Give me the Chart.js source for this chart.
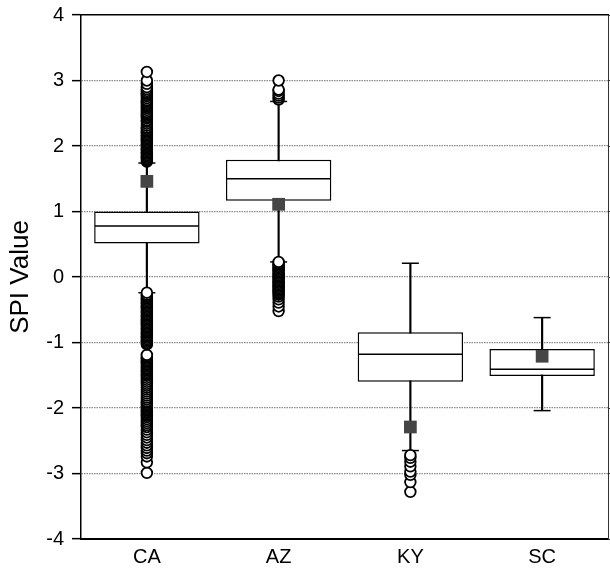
<!DOCTYPE html>
<html>
<head>
<meta charset="utf-8">
<script src="https://cdn.jsdelivr.net/npm/chart.js@4"></script>
<style>
  body { margin: 0; background: #fff; }
  #wrap { width: 610px; height: 570px; }
</style>
</head>
<body>
<div id="wrap"><canvas id="spiChart" width="610" height="570"></canvas></div>
<script>
// box plot values
const categories = ["CA", "AZ", "KY", "SC"];
const q1Values = [0.51, 1.165, -1.6, -1.51];
const medianValues = [0.78, 1.5, -1.18, -1.41];
const q3Values = [1.0, 1.79, -0.845, -1.1];
const whiskerLow = [-0.24, 0.23, -2.65, -2.04];
const whiskerHigh = [1.74, 2.68, 0.21, -0.62];
const meanValues = [1.46, 1.11, -2.29, -1.21];
const yTicks = [-4, -3, -2, -1, 0, 1, 2, 3, 4];

// outliers (ascending, so the one nearest the whisker ends up on top)
const caOutliers = [
  -2.99, -2.83, -2.74, -2.69, -2.65, -2.61, -2.57, -2.53, -2.49, -2.45, -2.41,
  -2.37, -2.33, -2.29, -2.26, -2.23, -2.2, -2.17, -2.14, -2.12, -2.1, -2.08,
  -2.06, -2.04, -2.02, -2.0, -1.98, -1.96, -1.94, -1.92, -1.9, -1.87, -1.84,
  -1.81, -1.78, -1.75, -1.72, -1.69, -1.66, -1.63, -1.6, -1.57, -1.54, -1.51,
  -1.49, -1.47, -1.45, -1.43, -1.41, -1.39, -1.37, -1.35, -1.33, -1.31, -1.29,
  -1.27, -1.25, -1.23, -1.21, -1.19, -1.03, -1.01, -0.99, -0.97, -0.95,
  -0.93, -0.91, -0.89, -0.87, -0.85, -0.83, -0.81, -0.79, -0.77, -0.75, -0.73,
  -0.71, -0.69, -0.67, -0.65, -0.63, -0.61, -0.59, -0.57, -0.55, -0.53, -0.51,
  -0.49, -0.47, -0.45, -0.43, -0.41, -0.39, -0.37, -0.35, -0.33, -0.31, -0.29,
  -0.27, -0.24,
  1.76, 1.78, 1.8, 1.82, 1.84, 1.86, 1.88, 1.9, 1.92, 1.94, 1.96, 1.98, 2.0,
  2.02, 2.04, 2.06, 2.08, 2.1, 2.12, 2.14, 2.16, 2.18, 2.2, 2.22, 2.24, 2.26,
  2.28, 2.31, 2.34, 2.37, 2.39, 2.42, 2.44, 2.46, 2.48, 2.5, 2.52, 2.55, 2.58,
  2.6, 2.62, 2.64, 2.66, 2.68, 2.7, 2.73, 2.76, 2.78, 2.8, 2.82, 2.84, 2.87,
  2.9, 2.95, 3.0, 3.13,
];
const azOutliers = [
  -0.52, -0.45, -0.39, -0.34, -0.3, -0.27, -0.25, -0.23, -0.21, -0.19, -0.17,
  -0.15, -0.13, -0.11, -0.09, -0.07, -0.05, -0.03, -0.01, 0.01, 0.03, 0.05,
  0.07, 0.09, 0.11, 0.13, 0.15, 0.17, 0.19, 0.21, 0.23,
  2.71, 2.74, 2.77, 2.8, 2.84, 2.86, 3.0,
];
const kyOutliers = [-3.28, -3.13, -3.02, -2.97, -2.89, -2.82, -2.76, -2.72];
const scOutliers = [];

const outlierPoints = [];
[caOutliers, azOutliers, kyOutliers, scOutliers].forEach((list, i) => {
  list.forEach((v) => outlierPoints.push({ x: categories[i], y: v }));
});

const capPoints = [];
categories.forEach((c, i) => {
  capPoints.push({ x: c, y: whiskerLow[i] });
  capPoints.push({ x: c, y: whiskerHigh[i] });
});

// y scales: fixed width, no extra room for the end labels
const fitY = (w) => (s) => {
  s.width = w;
  s.paddingTop = 0;
  s.paddingBottom = 0;
};

const ctx = document.getElementById("spiChart").getContext("2d");
new Chart(ctx, {
  data: {
    labels: categories,
    datasets: [
      {
        // mean squares
        type: "line",
        showLine: false,
        data: categories.map((c, i) => ({ x: c, y: meanValues[i] })),
        pointStyle: "rect",
        pointRadius: 9,
        pointBackgroundColor: "#454545",
        pointBorderWidth: 0,
        pointBorderColor: "#454545",
      },
      {
        type: "line",
        showLine: false,
        data: outlierPoints,
        pointStyle: "circle",
        pointRadius: 5.3,
        pointBackgroundColor: "#fff",
        pointBorderColor: "#000",
        pointBorderWidth: 1.8,
      },
      {
        // whisker caps
        type: "line",
        showLine: false,
        data: capPoints,
        pointStyle: "line",
        pointRadius: 8.5,
        pointBorderColor: "#000",
        pointBorderWidth: 1.5,
      },
      {
        // median line across the box
        type: "line",
        showLine: false,
        data: categories.map((c, i) => ({ x: c, y: medianValues[i] })),
        pointStyle: "line",
        pointRadius: 52,
        pointBorderColor: "#000",
        pointBorderWidth: 1.5,
      },
      {
        type: "bar",
        data: categories.map((c, i) => [q1Values[i], q3Values[i]]),
        backgroundColor: "#fff",
        borderColor: "#000",
        borderWidth: 1.5,
        borderSkipped: false,
        barPercentage: 0.8,
        categoryPercentage: 1,
        grouped: false,
      },
      {
        // whisker line behind the box
        type: "bar",
        data: categories.map((c, i) => [whiskerLow[i], whiskerHigh[i]]),
        backgroundColor: "#000",
        borderWidth: 0,
        barThickness: 1.5,
        grouped: false,
      },
    ],
  },
  options: {
    responsive: false,
    animation: false,
    events: [],
    layout: { autoPadding: false, padding: { top: 15, left: 0, right: 0, bottom: 0 } },
    plugins: { legend: { display: false }, tooltip: { enabled: false } },
    scales: {
      x: {
        type: "category",
        offset: true,
        grid: { display: false, drawTicks: false },
        border: { display: true, color: "#000", width: 2 },
        ticks: {
          color: "#000",
          padding: 6,
          font: { family: "Liberation Sans", size: 20 },
        },
        afterFit: (s) => { s.height = 31; },
      },
      x2: {
        type: "category",
        position: "top",
        grid: { display: false, drawTicks: false },
        ticks: { display: false },
        border: { display: true, color: "#000", width: 1.5 },
        afterFit: (s) => { s.height = 0; },
      },
      y: {
        min: -4,
        max: 4,
        afterBuildTicks: (s) => { s.ticks = yTicks.map((v) => ({ value: v })); },
        grid: {
          color: (c) =>
            c.tick && (c.tick.value === -4 || c.tick.value === 4)
              ? "rgba(0,0,0,0)"
              : "#8a8a8a",
          lineWidth: 1.3,
          tickLength: 9,
          tickColor: "#000",
          tickWidth: 1.5,
        },
        border: { display: true, color: "#000", width: 1.5, dash: [1.5, 1] },
        ticks: {
          color: "#000",
          padding: 8,
          font: { family: "Liberation Sans", size: 20 },
        },
        title: {
          display: true,
          text: "SPI Value",
          color: "#000",
          padding: { top: 5, bottom: 0 },
          font: { family: "Liberation Sans", size: 26 },
        },
        afterFit: fitY(81),
      },
      y2: {
        position: "right",
        min: -4,
        max: 4,
        afterBuildTicks: (s) => { s.ticks = yTicks.map((v) => ({ value: v })); },
        grid: { drawOnChartArea: false, tickLength: 3, tickColor: "#333", tickWidth: 1 },
        border: { display: true, color: "#333", width: 1 },
        ticks: { display: false },
        afterFit: fitY(2),
      },
    },
  },
});
</script>
</body>
</html>
